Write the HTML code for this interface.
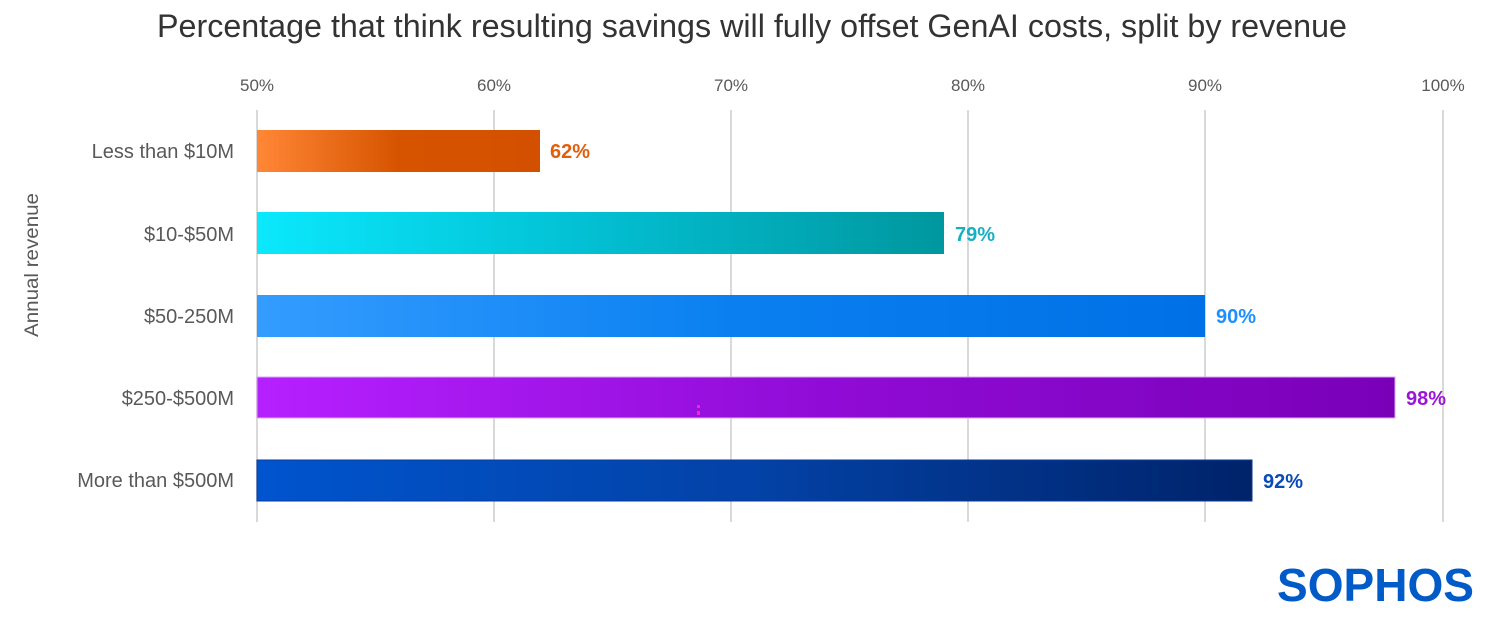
<!DOCTYPE html>
<html>
<head>
<meta charset="utf-8">
<style>
html,body{margin:0;padding:0;background:#fff;}
svg{display:block;}
text{font-family:"Liberation Sans",sans-serif;}
</style>
</head>
<body>
<svg width="1496" height="630" viewBox="0 0 1496 630" xmlns="http://www.w3.org/2000/svg">
<defs>
<linearGradient id="g1" x1="0" x2="1" y1="0" y2="0">
<stop offset="0" stop-color="#FF8736"/>
<stop offset="0.5" stop-color="#D65400"/>
<stop offset="1" stop-color="#D35000"/>
</linearGradient>
<linearGradient id="g2" x1="0" x2="1" y1="0" y2="0">
<stop offset="0" stop-color="#0BE8FC"/>
<stop offset="0.45" stop-color="#03C2D6"/>
<stop offset="1" stop-color="#00979F"/>
</linearGradient>
<linearGradient id="g3" x1="0" x2="1" y1="0" y2="0">
<stop offset="0" stop-color="#349CFF"/>
<stop offset="0.5" stop-color="#0A80F0"/>
<stop offset="1" stop-color="#0070E6"/>
</linearGradient>
<linearGradient id="g4" x1="0" x2="1" y1="0" y2="0">
<stop offset="0" stop-color="#B520FF"/>
<stop offset="0.5" stop-color="#900CD6"/>
<stop offset="1" stop-color="#7A00B8"/>
</linearGradient>
<linearGradient id="g5" x1="0" x2="1" y1="0" y2="0">
<stop offset="0" stop-color="#0054CE"/>
<stop offset="0.5" stop-color="#0342A6"/>
<stop offset="1" stop-color="#00236A"/>
</linearGradient>
</defs>

<!-- Title -->
<text x="157" y="37" font-size="32" fill="#333333" textLength="1190" lengthAdjust="spacingAndGlyphs">Percentage that think resulting savings will fully offset GenAI costs, split by revenue</text>

<!-- Tick labels -->
<g font-size="17" fill="#595959" text-anchor="middle">
<text x="257" y="91">50%</text>
<text x="494" y="91">60%</text>
<text x="731" y="91">70%</text>
<text x="968" y="91">80%</text>
<text x="1205" y="91">90%</text>
<text x="1443" y="91">100%</text>
</g>

<!-- Gridlines -->
<g stroke="#D9D9D9" stroke-width="2">
<line x1="257" y1="110" x2="257" y2="522"/>
<line x1="494" y1="110" x2="494" y2="522"/>
<line x1="731" y1="110" x2="731" y2="522"/>
<line x1="968" y1="110" x2="968" y2="522"/>
<line x1="1205" y1="110" x2="1205" y2="522"/>
<line x1="1443" y1="110" x2="1443" y2="522"/>
</g>

<!-- Bars -->
<rect x="257" y="130" width="283" height="42" fill="url(#g1)"/>
<rect x="257" y="212" width="687" height="42" fill="url(#g2)"/>
<rect x="257" y="295" width="948" height="42" fill="url(#g3)"/>
<rect x="257" y="377" width="1138" height="41" fill="url(#g4)" stroke="#D8A8F0" stroke-width="1"/>
<rect x="257" y="460" width="995" height="41" fill="url(#g5)" stroke="#0a3a9a" stroke-width="1"/>
<rect x="697" y="405" width="3" height="3" fill="#FF22CC"/>
<rect x="697" y="411" width="3" height="4" fill="#FF22CC"/>

<!-- Category labels -->
<g font-size="20" fill="#595959" text-anchor="end">
<text x="234" y="158">Less than $10M</text>
<text x="234" y="241">$10-$50M</text>
<text x="234" y="323">$50-250M</text>
<text x="234" y="405">$250-$500M</text>
<text x="234" y="487">More than $500M</text>
</g>

<!-- Axis title -->
<text x="0" y="0" font-size="19" fill="#595959" text-anchor="middle" transform="translate(38,265) rotate(-90)" textLength="144" lengthAdjust="spacingAndGlyphs">Annual revenue</text>

<!-- Value labels -->
<g font-size="20" font-weight="bold">
<text x="550" y="158" fill="#E25E0A">62%</text>
<text x="955" y="241" fill="#17B0C2">79%</text>
<text x="1216" y="323" fill="#1E8FFF">90%</text>
<text x="1406" y="405" fill="#9B16D6">98%</text>
<text x="1263" y="488" fill="#0B4BB6">92%</text>
</g>

<!-- Logo -->
<text x="1277" y="601" font-size="46" font-weight="bold" fill="#005BC8" textLength="197" lengthAdjust="spacingAndGlyphs">SOPHOS</text>
</svg>
</body>
</html>
